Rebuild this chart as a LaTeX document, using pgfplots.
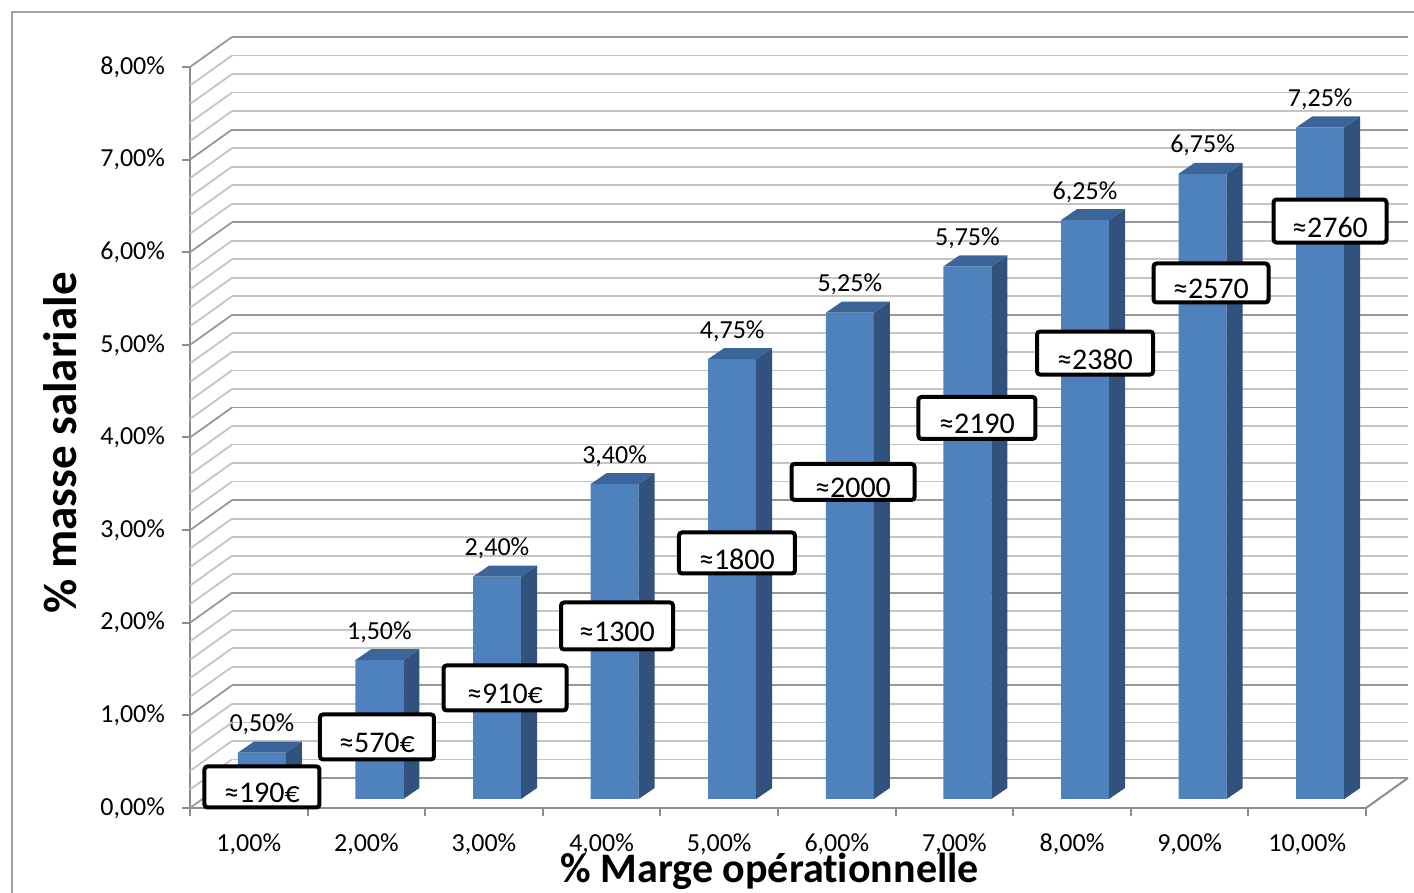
\documentclass[border=0pt]{standalone}
\usepackage{pgfplots}
\usepackage{pgfplotstable}
\pgfplotsset{compat=1.18}
\usepackage{fontspec}
\setmainfont{Carlito}[Ligatures=NoCommon]
\definecolor{barblue}{HTML}{4F81BD}
\definecolor{sideblue}{HTML}{32527E}
\definecolor{topblue}{HTML}{3B6599}
\definecolor{gridminor}{HTML}{C4C4C4}
\definecolor{gridmajor}{HTML}{989898}
\definecolor{axisgray}{HTML}{8C8C8C}
\pgfdeclareplotmark{prism}{%
  \pgfmathsetmacro\hh{\hv*46.3125}%
  \pgfmathsetmacro\hb{5.5-\hh}%
  \pgfpathmoveto{\pgfpoint{12pt}{0pt}}%
  \pgfpathlineto{\pgfpoint{20pt}{5.5pt}}%
  \pgfpathlineto{\pgfpoint{20pt}{\hb pt}}%
  \pgfpathlineto{\pgfpoint{12pt}{-\hh pt}}%
  \pgfpathclose
  \pgfsetfillcolor{sideblue}\pgfusepath{fill}%
  \pgfpathmoveto{\pgfpoint{-12pt}{0pt}}%
  \pgfpathlineto{\pgfpoint{-4pt}{5.5pt}}%
  \pgfpathlineto{\pgfpoint{20pt}{5.5pt}}%
  \pgfpathlineto{\pgfpoint{12pt}{0pt}}%
  \pgfpathclose
  \pgfsetfillcolor{topblue}\pgfusepath{fill}%
}
\pgfplotstableread{
x h
1 0.5
2 1.5
3 2.4
4 3.4
5 4.75
6 5.25
7 5.75
8 6.25
9 6.75
10 7.25
}\bardata
\newcommand\vb[6]{%
  \node[draw=black, line width=2pt, fill=white, rounded corners=1.5pt, minimum width=#3, minimum height=#4, inner sep=0pt] at (axis cs:#1,#2) {};
  \node[font=\fontsize{15}{17}\selectfont, inner sep=0pt] at (axis cs:#1,#2) [yshift=-3pt] {#5#6};
}
\begin{document}
\begin{tikzpicture}
\useasboundingbox (0,0) rectangle (707pt,446.5pt);
\draw[color=axisgray!80, line width=1pt] (6pt,0) -- (6pt,440.5pt) -- (707pt,440.5pt);
% back wall
\begin{axis}[at={(116pt,57.5pt)}, anchor=south west, x=58.8pt, y=46.3125pt,
  xmin=0.5, xmax=10.5, ymin=0, ymax=8,
  axis line style={draw=none}, xtick=\empty, ytick={0,1,...,8}, yticklabels={},
  minor y tick num=4, major tick length=0pt, minor tick length=0pt,
  ymajorgrids, yminorgrids,
  major grid style={color=gridmajor, line width=0.9pt},
  minor grid style={color=gridminor, line width=0.9pt}]
\addplot[draw=none] coordinates {(1,0)};
\end{axis}
% bars
\begin{axis}[at={(101.5pt,47pt)}, anchor=south west, x=58.8pt, y=46.3125pt,
  xmin=0.5, xmax=10.5, ymin=0, ymax=8, hide axis, clip=false]
\addplot[ybar, bar width=24pt, fill=barblue, draw=none] table[x=x, y=h] {\bardata};
\addplot[only marks, mark=prism, visualization depends on={\thisrow{h} \as \hv},
  point meta=\thisrow{h},
  nodes near coords={\pgfmathprintnumber[fixed, fixed zerofill, precision=2, use comma, assume math mode=true]{\pgfplotspointmeta}\%},
  every node near coord/.append style={anchor=center, yshift=14pt, font=\fontsize{13}{15}\selectfont, text=black}]
  table[x=x, y=h] {\bardata};
\end{axis}
% front axis
\begin{axis}[at={(95pt,42.5pt)}, anchor=south west, x=58.8pt, y=46.3125pt,
  xmin=0.5, xmax=10.5, ymin=0, ymax=8, clip=false,
  axis x line*=bottom, axis y line*=left,
  axis line style={-, draw=axisgray, line width=1pt},
  tick align=outside, major tick length=4pt,
  tick style={draw=axisgray, line width=1pt},
  xtick={0.5,1.5,...,9.5},
  xticklabels={{1,00\%},{2,00\%},{3,00\%},{4,00\%},{5,00\%},{6,00\%},{7,00\%},{8,00\%},{9,00\%},{10,00\%}},
  xticklabel style={xshift=29.4pt, yshift=-5.5pt},
  extra x ticks={10.5}, extra x tick labels={},
  ytick={0,1,...,8},
  yticklabels={{0,00\%},{1,00\%},{2,00\%},{3,00\%},{4,00\%},{5,00\%},{6,00\%},{7,00\%},{8,00\%}},
  yticklabel style={xshift=-5pt},
  tick label style={font=\fontsize{13}{15}\selectfont},
  xlabel={\% Marge opérationnelle},
  xlabel style={at={(axis description cs:0.493,-0.085)}, anchor=center, font=\bfseries\fontsize{21}{24}\selectfont},
  ylabel={\% masse salariale},
  ylabel style={at={(axis description cs:-0.1105,0.4926)}, anchor=center, font=\bfseries\fontsize{23.5}{26}\selectfont}]
\addplot[draw=none] coordinates {(1,0)};
\pgfplotsinvokeforeach{0.2,0.4,0.6,0.8,1.2,1.4,1.6,1.8,2.2,2.4,2.6,2.8,3.2,3.4,3.6,3.8,4.2,4.4,4.6,4.8,5.2,5.4,5.6,5.8,6.2,6.4,6.6,6.8,7.2,7.4,7.6,7.8}{
  \draw[color=gridminor, line width=0.9pt] (axis cs:0.5,#1) -- ++(21pt,15pt);
}
\pgfplotsinvokeforeach{0,1,2,3,4,5,6,7,8}{
  \draw[color=gridmajor, line width=0.9pt] (axis cs:0.5,#1) -- ++(21pt,15pt);
}
\draw[color=axisgray, line width=1pt] (axis cs:10.5,0) -- ++(21pt,15pt);
\vb{1.112}{0.227}{57.5pt}{20.5pt}{≈190}{€}
\vb{2.090}{0.767}{57pt}{22.5pt}{≈570}{€}
\vb{3.179}{1.296}{61.5pt}{22.5pt}{≈910}{€}
\vb{4.131}{1.965}{56pt}{23.5pt}{≈1300}{}
\vb{5.151}{2.753}{58pt}{20.5pt}{≈1800}{}
\vb{6.138}{3.520}{61.5pt}{18pt}{≈2000}{}
\vb{7.192}{4.211}{58.5pt}{21pt}{≈2190}{}
\vb{8.196}{4.912}{58pt}{21.5pt}{≈2380}{}
\vb{9.182}{5.668}{57.5pt}{19.5pt}{≈2570}{}
\vb{10.194}{6.337}{56.5pt}{21.5pt}{≈2760}{}
\end{axis}
\end{tikzpicture}
\end{document}
